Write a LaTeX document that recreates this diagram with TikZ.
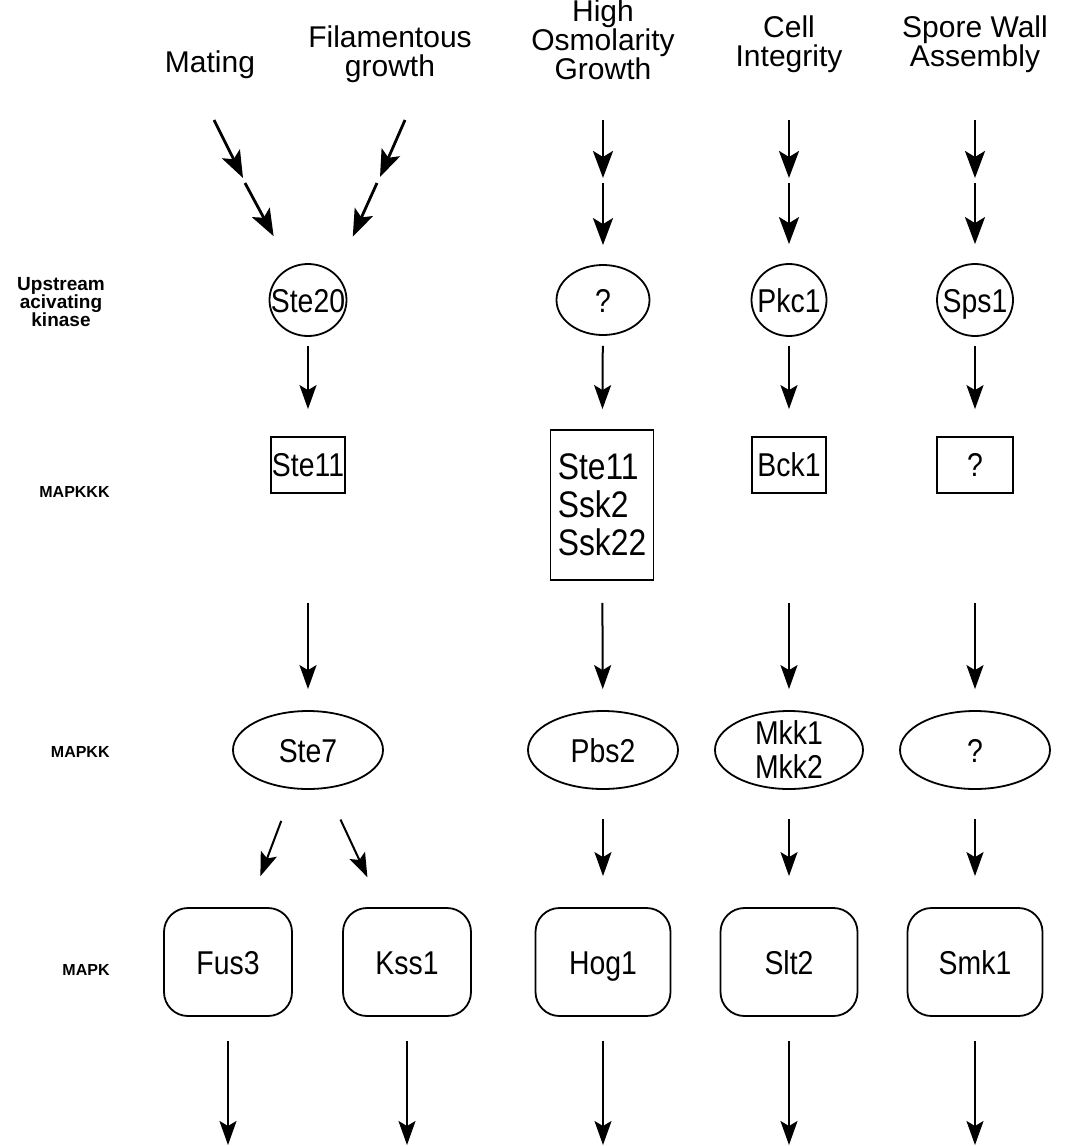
\documentclass[tikz,border=0pt]{standalone}
\usepackage{fontspec}
\setmainfont{Liberation Sans}
\newfontfamily\nodefont{Liberation Sans}[FakeStretch=0.86]
\usetikzlibrary{positioning}
\usetikzlibrary{arrows.meta}
\usetikzlibrary{shapes.geometric}

\begin{document}
\begin{tikzpicture}[x=0.5pt, y=-0.5pt,
    pathway/.style={font=\fontsize{15}{14.5}\selectfont, align=center},
    level/.style={font=\bfseries\fontsize{8}{9}\selectfont, anchor=east, inner sep=0pt},
    upkin/.style={draw, ellipse, line width=0.9pt, inner sep=0pt},
    kkk/.style={draw, rectangle, line width=0.9pt, inner xsep=0.5pt, inner ysep=2pt, font=\nodefont\fontsize{16.5}{18}\selectfont},
    mapkk/.style={draw, ellipse, line width=0.9pt, inner sep=0pt, minimum width=75pt, minimum height=39pt},
    mapk/.style={draw, rectangle, rounded corners=12pt, line width=0.9pt, minimum width=64pt, minimum height=54pt,
        text height=12pt, text depth=0pt, font=\nodefont\fontsize{16.5}{18}\selectfont},
    every label/.append style={font=\nodefont\fontsize{16.5}{17}\selectfont, align=center, inner sep=0pt},
    lab/.style={text height=12pt, text depth=0pt},
    arr/.style={line width=1pt, -{Stealth[length=12pt, width=8.5pt, inset=2.5pt]}},
    thick arr/.style={line width=1.4pt, -{Stealth[length=13.5pt, width=10pt, inset=3pt]}}]
    \useasboundingbox (0,0) rectangle (1074,1146);

    % pathways
    \node[pathway] (mating) at (210,65) {Mating};
    \node[pathway] (filament) at (390,54) {Filamentous\\growth};
    \node[pathway] (osmo) at (603,40) {High\\Osmolarity\\Growth};
    \node[pathway] (integ) at (789,44) {Cell\\Integrity};
    \node[pathway] (spore) at (975,44) {Spore Wall\\Assembly};

    % levels
    \node[level, anchor=center, align=center, font=\bfseries\fontsize{9.5}{9}\selectfont] (lup) at (61,302) {Upstream\\acivating\\kinase};
    \node[level] (lkkk) at (110,492) {MAPKKK};
    \node[level] (lkk) at (110,752) {MAPKK};
    \node[level] (lk) at (110,970) {MAPK};

    % upstream kinases
    \node[upkin, minimum width=38.5pt, minimum height=36pt, label={[lab]center:Ste20}] (ste20) at (308,300) {};
    \node[upkin, minimum width=46.5pt, minimum height=35pt, label={[lab]center:?}] (upq) at (603,300) {};
    \node[upkin, minimum width=37.5pt, minimum height=36pt, label={[lab]center:Pkc1}] (pkc1) at (789,300) {};
    \node[upkin, minimum width=38pt, minimum height=36pt, label={[lab]center:Sps1}] (sps1) at (975,300) {};

    % MAPKKK
    \node[kkk, minimum width=37pt, minimum height=28pt] (ste11) at (308,465) {Ste11};
    \node[kkk, minimum width=51.5pt, minimum height=75pt, align=left, font=\nodefont\fontsize{18.5}{19}\selectfont] (ssk) at (602,505) {Ste11\\Ssk2\\Ssk22};
    \node[kkk, minimum width=37pt, minimum height=28pt] (bck1) at (789,465) {Bck1};
    \node[kkk, minimum width=38pt, minimum height=28pt] (kkkq) at (975,465) {?};

    % MAPKK
    \node[mapkk, label={[lab]center:Ste7}] (ste7) at (308,750) {};
    \node[mapkk, label={[lab]center:Pbs2}] (pbs2) at (603,750) {};
    \node[mapkk, minimum width=74pt, label={center:Mkk1\\Mkk2}] (mkk) at (789,750) {};
    \node[mapkk, label={[lab]center:?}] (kkq) at (975,750) {};

    % MAPK
    \node[mapk] (fus3) at (228,962) {Fus3};
    \node[mapk] (kss1) at (407,962) {Kss1};
    \node[mapk, minimum width=67.5pt] (hog1) at (603,962) {Hog1};
    \node[mapk, minimum width=68.5pt] (slt2) at (789,962) {Slt2};
    \node[mapk, minimum width=67.5pt] (smk1) at (975,962) {Smk1};

    % signals in
    \coordinate (mat0) at (214,120);
    \coordinate (mat1) at (243,178);
    \coordinate (mat2) at (245,183);
    \coordinate (fil0) at (405,120);
    \coordinate (fil1) at (380,177);
    \coordinate (fil2) at (377,183);
    \draw[thick arr] (mat0) -- (mat1);
    \draw[thick arr, shorten >=17.5pt] (mat2) -- (ste20);
    \draw[thick arr] (fil0) -- (fil1);
    \draw[thick arr, shorten >=20.5pt] (fil2) -- (ste20.north east);
    \foreach \c/\n in {603/upq, 789/pkc1, 975/sps1} {
        \coordinate (\n0) at (\c,120);
        \coordinate (\n1) at (\c,178);
        \coordinate (\n2) at (\c,183);
        \draw[thick arr] (\n0) -- (\n1);
        \draw[thick arr, shorten >=9.5pt] (\n2) -- (\n);
    }

    % cascade
    \foreach \a/\b in {ste20/ste11, pkc1/bck1, sps1/kkkq}
        \draw[arr, shorten <=4.5pt, shorten >=13.5pt] (\a) -- (\b);
    \draw[arr, shorten <=5pt, shorten >=10pt] (upq) -- (ssk);
    \foreach \a/\b in {ste11/ste7, bck1/mkk, kkkq/kkq}
        \draw[arr, shorten <=54.5pt, shorten >=10.5pt] (\a) -- (\b);
    \draw[arr, shorten <=11pt, shorten >=10.5pt] (ssk) -- (pbs2);
    \draw[arr, shorten <=17pt, shorten >=16.5pt] (ste7) -- (fus3);
    \draw[arr, shorten <=17pt, shorten >=16.5pt] (ste7) -- (kss1);
    \foreach \a/\b in {pbs2/hog1, mkk/slt2, kkq/smk1}
        \draw[arr, shorten <=14.5pt, shorten >=15.5pt] (\a) -- (\b);

    % outputs
    \foreach \n/\c in {fus3/228, kss1/407, hog1/603, slt2/789, smk1/975} {
        \coordinate (\n out) at (\c,1145);
        \draw[arr, shorten <=12pt] (\n) -- (\n out);
    }
\end{tikzpicture}
\end{document}
